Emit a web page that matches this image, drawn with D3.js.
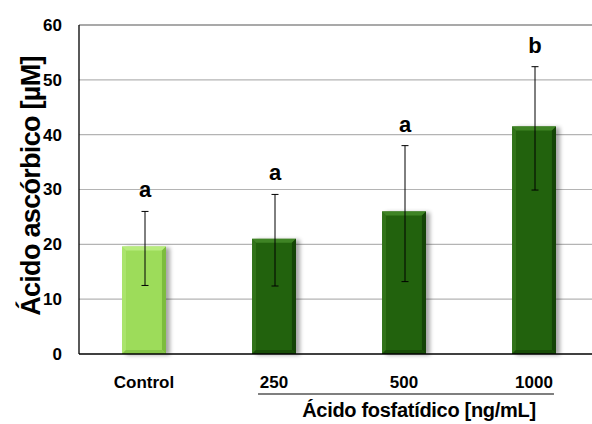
<!DOCTYPE html>
<html><head><meta charset="utf-8">
<script src="https://cdn.jsdelivr.net/npm/d3@7"></script>
<style>body{margin:0;background:#fff}svg{display:block}text{font-family:"Liberation Sans",Arial,sans-serif;font-weight:bold}</style>
</head><body><svg id="c" width="592" height="424"></svg>
<script>
const categories = ["Control", "250", "500", "1000"];
const values = [19.6, 21.0, 26.0, 41.5];
const errLow = [12.5, 12.4, 13.2, 29.9];
const errHigh = [26.0, 29.1, 38.0, 52.4];
const letters = ["a", "a", "a", "b"];
const yTicks = [0, 10, 20, 30, 40, 50, 60];
const yTitle = "Ácido ascórbico [µM]";
const xTitle = "Ácido fosfatídico [ng/mL]";

const svg = d3.select("#c");
const L = 79, T = 25, B = 354, R = 599;
const FONT = '"Liberation Sans",Arial,sans-serif';
const x = d3.scaleBand().domain(categories).range([L, R]).paddingInner(0.662).paddingOuter(0.331);
const y = d3.scaleLinear().domain([0, 60]).range([B, T]);

const defs = svg.append("defs");
const f = defs.append("filter").attr("id","sh").attr("x","-20%").attr("y","-20%").attr("width","160%").attr("height","140%");
f.append("feGaussianBlur").attr("in","SourceAlpha").attr("stdDeviation",2.2);
f.append("feOffset").attr("dx",4).attr("dy",1).attr("result","b");
const fc = f.append("feComponentTransfer"); fc.append("feFuncA").attr("type","linear").attr("slope",0.35);
const fm = f.append("feMerge"); fm.append("feMergeNode"); fm.append("feMergeNode").attr("in","SourceGraphic");

// gridlines
svg.append("g").selectAll("line").data(yTicks.filter(d => d > 0 && d < 60)).join("line")
  .attr("x1", L).attr("x2", 592).attr("y1", d => y(d)).attr("y2", d => y(d))
  .attr("stroke", "#b4b4b4").attr("stroke-width", 1.2);
svg.append("line").attr("x1", L).attr("x2", 592).attr("y1", y(60)).attr("y2", y(60)).attr("stroke", "#555").attr("stroke-width", 1.2);

const colors = [
  {main:"#9ddc5a", top:"#b8ec7e", side:"#7cbc3e", bot:"#86c648"},
  {main:"#21620a", top:"#3f8425", side:"#144406", bot:"#184d07"}
];
const bars = svg.append("g").selectAll("g").data(categories).join("g");
bars.each(function(c, i){
  const g = d3.select(this);
  const col = i === 0 ? colors[0] : colors[1];
  const x0 = x(c), w = x.bandwidth(), y0 = y(values[i]), y1 = y(0), h = y1 - y0, e = 4;
  g.append("rect").attr("x", x0).attr("y", y0).attr("width", w).attr("height", h).attr("fill", col.main).attr("filter","url(#sh)");
  g.append("path").attr("d", `M${x0},${y0}L${x0+w},${y0}L${x0+w-e},${y0+e}L${x0+e},${y0+e}Z`).attr("fill", col.top);
  g.append("path").attr("d", `M${x0+w},${y0}L${x0+w},${y1}L${x0+w-e},${y1-e}L${x0+w-e},${y0+e}Z`).attr("fill", col.side);
  g.append("path").attr("d", `M${x0},${y0}L${x0+e},${y0+e}L${x0+e},${y1-e}L${x0},${y1}Z`).attr("fill", col.top).attr("opacity",0.5);
  g.append("path").attr("d", `M${x0},${y1}L${x0+e},${y1-e}L${x0+w-e},${y1-e}L${x0+w},${y1}Z`).attr("fill", col.bot);
});

// error bars
const eg = svg.append("g").attr("stroke", "#000").attr("stroke-width", 1);
categories.forEach((c, i) => {
  const cx = x(c) + x.bandwidth()/2 + 1;
  eg.append("line").attr("x1", cx).attr("x2", cx).attr("y1", y(errHigh[i])).attr("y2", y(errLow[i]));
  eg.append("line").attr("x1", cx-3.5).attr("x2", cx+3.5).attr("y1", y(errHigh[i])).attr("y2", y(errHigh[i]));
  eg.append("line").attr("x1", cx-3.5).attr("x2", cx+3.5).attr("y1", y(errLow[i])).attr("y2", y(errLow[i]));
});

// letters
svg.append("g").selectAll("text").data(categories).join("text")
  .attr("x", (c) => x(c) + x.bandwidth()/2 + 1)
  .attr("y", (c, i) => y(errHigh[i]) - 14)
  .attr("text-anchor", "middle").attr("font-size", 22).text((c, i) => letters[i]);

// axes
svg.append("line").attr("x1", L).attr("x2", 592).attr("y1", B).attr("y2", B).attr("stroke", "#000").attr("stroke-width", 1.3);
svg.append("line").attr("x1", L).attr("x2", L).attr("y1", T).attr("y2", B).attr("stroke", "#000").attr("stroke-width", 1.3);
const ya = svg.append("g").attr("transform", `translate(${L},0)`).call(d3.axisLeft(y).tickValues(yTicks).tickSize(0).tickPadding(17));
ya.select(".domain").remove();
ya.selectAll("text").attr("font-size", 17).attr("fill", "#000").attr("font-family", FONT).attr("font-weight","bold");

const xa = svg.append("g").attr("transform", `translate(0,${B})`).call(d3.axisBottom(x).tickSize(0).tickPadding(22));
xa.select(".domain").remove();
xa.selectAll("text").attr("font-size", 17).attr("fill", "#000").attr("font-family", FONT).attr("font-weight","bold");

// group underline and title
svg.append("line").attr("x1", x("250") + 6).attr("x2", x("1000") + x.bandwidth() - 2).attr("y1", 394).attr("y2", 394).attr("stroke", "#000").attr("stroke-width", 1.2);
svg.append("text").attr("x", 419).attr("y", 417).attr("text-anchor", "middle").attr("font-size", 20).attr("letter-spacing", -0.3).text(xTitle);

svg.append("text").attr("transform", `translate(40,186) rotate(-90)`).attr("text-anchor", "middle").attr("font-size", 27).attr("letter-spacing", -0.7).text(yTitle);
</script></body></html>
